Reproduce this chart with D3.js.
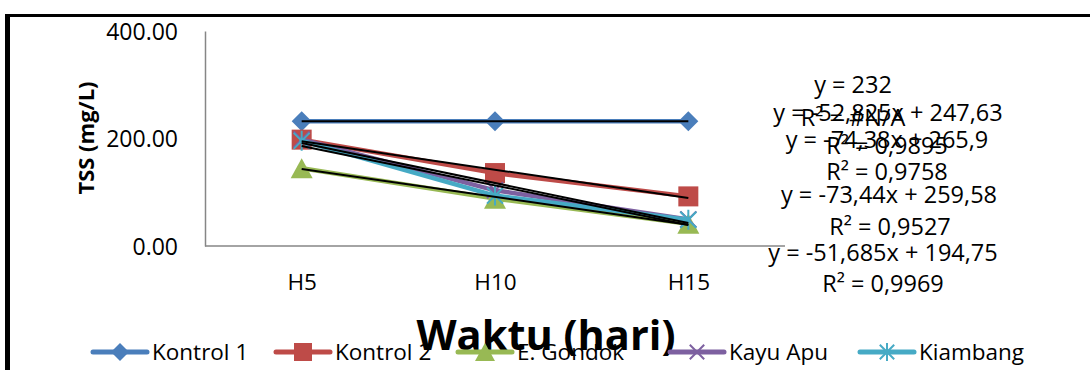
<!DOCTYPE html>
<html>
<head>
<meta charset="utf-8">
<script src="https://cdnjs.cloudflare.com/ajax/libs/d3/7.8.5/d3.min.js"></script>
<style>
  html, body { margin: 0; padding: 0; background: #fff; }
  svg { display: block; }
  text { font-family: "Open Sans", "Noto Sans", sans-serif; fill: #000; }
</style>
</head>
<body>
<svg id="chart" width="1090" height="370"></svg>
<script>
// Sampling days
const categories = ["H5", "H10", "H15"];

// TSS (mg/L) per treatment
const seriesNames = ["Kontrol 1", "Kontrol 2", "E. Gondok", "Kayu Apu", "Kiambang"];
const kontrol1 = [232, 232, 232];
const kontrol2 = [197.9, 135.7, 92.3];
const eGondok  = [144.7, 88.1, 41.4];
const kayuApu  = [198.3, 103.6, 49.5];
const kiambang = [195.6, 93.8, 48.7];

// Linear trendlines (x = 1, 2, 3)
const trendSlopes     = [0, -52.825, -51.685, -74.38, -73.44];
const trendIntercepts = [232, 247.63, 194.75, 265.9, 259.58];
const trendEquations  = ["y = 232", "y = -52,825x + 247,63", "y = -51,685x + 194,75", "y = -74,38x + 265,9", "y = -73,44x + 259,58"];
const trendR2         = ["R² = #N/A", "R² = 0,9895", "R² = 0,9969", "R² = 0,9758", "R² = 0,9527"];

// Y axis ticks
const yTicks = [0, 200, 400];

const seriesValues = [kontrol1, kontrol2, eGondok, kayuApu, kiambang];
const colors  = ["#4A7EBB", "#BE4B48", "#98B954", "#7D60A0", "#46AAC5"];
const markers = ["diamond", "square", "triangle", "x", "star"];

const svg = d3.select("#chart");
svg.append("rect").attr("width", 1090).attr("height", 370).attr("fill", "#fff");

// Frame (left and top edges)
svg.append("rect").attr("x", 5).attr("y", 14).attr("width", 5).attr("height", 356).attr("fill", "#000");
svg.append("rect").attr("x", 5).attr("y", 14).attr("width", 1085).attr("height", 3).attr("fill", "#000");

const plot = { left: 205, right: 785, top: 31, bottom: 246 };

const x = d3.scalePoint().domain(categories).range([plot.left, plot.right]).padding(0.5);
const xNum = d3.scaleLinear().domain([1, 3]).range([x(categories[0]), x(categories[2])]);
const y = d3.scaleLinear().domain([0, 400]).range([plot.bottom, plot.top]);

// Axes
const yAxis = svg.append("g")
  .attr("transform", `translate(${plot.left},0)`)
  .call(d3.axisLeft(y).tickValues(yTicks).tickFormat(d3.format(".2f")).tickSize(0).tickPadding(27));
yAxis.select(".domain").attr("stroke", "#868686").attr("stroke-width", 1.5);
yAxis.selectAll("text").attr("font-size", 23).attr("font-family", "Open Sans").attr("dy", "0.35em");

const xAxis = svg.append("g")
  .attr("transform", `translate(0,${plot.bottom})`)
  .call(d3.axisBottom(x).tickSize(0).tickPadding(0));
xAxis.select(".domain").attr("stroke", "#868686").attr("stroke-width", 1.5)
  .attr("d", `M${plot.left},0H${plot.right}`);
xAxis.selectAll("text").attr("font-size", 22.5).attr("font-family", "Open Sans").attr("dy", null).attr("y", 44);

// Marker shapes
function drawMarker(g, type, cx, cy, color, s) {
  const h = s / 2;
  if (type === "diamond") {
    g.append("path").attr("d", `M${cx},${cy - h}L${cx + h},${cy}L${cx},${cy + h}L${cx - h},${cy}Z`).attr("fill", color);
  } else if (type === "square") {
    g.append("rect").attr("x", cx - h).attr("y", cy - h).attr("width", s).attr("height", s).attr("fill", color);
  } else if (type === "triangle") {
    g.append("path").attr("d", `M${cx},${cy - h}L${cx + h + 1},${cy + h}L${cx - h - 1},${cy + h}Z`).attr("fill", color);
  } else if (type === "x") {
    const k = h * 0.8;
    g.append("path").attr("d", `M${cx - k},${cy - k}L${cx + k},${cy + k}M${cx - k},${cy + k}L${cx + k},${cy - k}`)
      .attr("stroke", color).attr("stroke-width", 2).attr("fill", "none");
  } else if (type === "star") {
    const k = h * 0.8;
    g.append("path").attr("d", `M${cx - k},${cy - k}L${cx + k},${cy + k}M${cx - k},${cy + k}L${cx + k},${cy - k}M${cx},${cy - h}L${cx},${cy + h}`)
      .attr("stroke", color).attr("stroke-width", 2).attr("fill", "none");
  }
}

// Data series
const line = d3.line().x((d, i) => x(categories[i])).y(d => y(d));
seriesValues.forEach((vals, si) => {
  const g = svg.append("g");
  g.append("path").attr("d", line(vals)).attr("fill", "none")
    .attr("stroke", colors[si]).attr("stroke-width", 4.5).attr("stroke-linejoin", "round").attr("stroke-linecap", "round");
  vals.forEach((v, i) => drawMarker(g, markers[si], x(categories[i]), y(v), colors[si], 20));
});

// Trendlines
trendSlopes.forEach((m, si) => {
  const b = trendIntercepts[si];
  svg.append("line")
    .attr("x1", xNum(1)).attr("y1", y(m * 1 + b))
    .attr("x2", xNum(3)).attr("y2", y(m * 3 + b))
    .attr("stroke", "#000").attr("stroke-width", 2);
});

// Trendline labels (equation and R² stacked)
const labelPos = [
  { eq: [853, 85],  r2: [853, 118] },
  { eq: [888, 113], r2: [887, 146] },
  { eq: [883, 253], r2: [883, 284] },
  { eq: [887, 140], r2: [887, 172] },
  { eq: [889, 195], r2: [890, 227] }
];
trendEquations.forEach((t, si) => {
  const p = labelPos[si];
  svg.append("text").attr("x", p.eq[0]).attr("y", p.eq[1]).attr("dy", "0.35em")
    .attr("text-anchor", "middle").attr("font-size", 23.5).text(t);
  svg.append("text").attr("x", p.r2[0]).attr("y", p.r2[1]).attr("dy", "0.35em")
    .attr("text-anchor", "middle").attr("font-size", 23.5).text(trendR2[si]);
});

// Axis titles
svg.append("text").attr("transform", "translate(94,138) rotate(-90)")
  .attr("text-anchor", "middle").attr("font-weight", "bold").attr("font-size", 22).text("TSS (mg/L)");
svg.append("text").attr("x", 546).attr("y", 350)
  .attr("text-anchor", "middle").attr("font-weight", "bold").attr("font-size", 41.5).text("Waktu (hari)");

// Legend
const legendX = [93, 276, 458, 670, 860];
seriesNames.forEach((name, si) => {
  const g = svg.append("g");
  const lx = legendX[si], ly = 352;
  g.append("line").attr("x1", lx).attr("x2", lx + 54).attr("y1", ly).attr("y2", ly)
    .attr("stroke", colors[si]).attr("stroke-width", 5).attr("stroke-linecap", "round");
  drawMarker(g, markers[si], lx + 27, ly, colors[si], 18);
  g.append("text").attr("x", lx + 59).attr("y", 360).attr("font-size", 22.5).text(name);
});
</script>
</body>
</html>
